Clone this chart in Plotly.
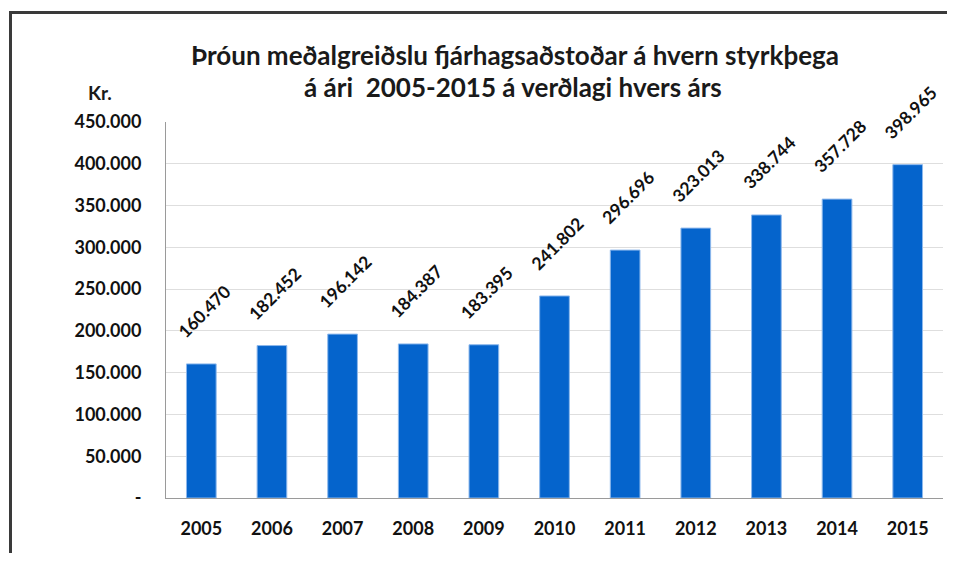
import plotly.graph_objects as go

years = ["2005", "2006", "2007", "2008", "2009", "2010", "2011", "2012", "2013", "2014", "2015"]
values = [160470, 182452, 196142, 184387, 183395, 241802, 296696, 323013, 338744, 357728, 398965]
y_tickvals = [0, 50000, 100000, 150000, 200000, 250000, 300000, 350000, 400000, 450000]
y_ticktext = ["-", "50.000", "100.000", "150.000", "200.000", "250.000", "300.000",
              "350.000", "400.000", "450.000"]
title_line1 = "Þróun meðalgreiðslu fjárhagsaðstoðar á hvern styrkþega"
title_line2 = "á ári  2005-2015 á verðlagi hvers árs"
unit_label = "Kr."

# page offset (browser body margin); keep the figure inside the window
OX, OY = 8, 8
W, H = 955 - 2 * OX, 565 - 2 * OY - 4
# plot area in page pixels
L, R, T, B = 166, 943, 122, 498

def px(x):
    return (x - L) / (R - L)

def py(y):
    return (B - y) / (B - T)

FONT = "Lato, 'Open Sans', sans-serif"

fig = go.Figure()
fig.add_trace(go.Bar(
    x=years, y=values,
    marker=dict(color="#0564CC", line=dict(color="#8db8ec", width=1)),
    width=0.42,
    hoverinfo="x+y",
))

annotations = []
for i, v in enumerate(values):
    annotations.append(dict(
        x=i, y=v, xref="x", yref="y",
        text="<b>" + f"{v:,}".replace(",", ".") + "</b>",
        textangle=-45, showarrow=False,
        xanchor="center", yanchor="bottom", yshift=19, xshift=3,
        font=dict(family=FONT, size=17.5, color="#111111"),
    ))

annotations += [
    dict(x=px(515), y=py(55), xref="paper", yref="paper", text="<b>" + title_line1 + "</b>",
         showarrow=False, xanchor="center", yanchor="middle",
         font=dict(family=FONT, size=26, color="#1a1a1a")),
    dict(x=px(513), y=py(87), xref="paper", yref="paper", text="<b>" + title_line2 + "</b>",
         showarrow=False, xanchor="center", yanchor="middle",
         font=dict(family=FONT, size=26, color="#1a1a1a")),
    dict(x=px(100), y=py(92), xref="paper", yref="paper", text="<b>" + unit_label + "</b>",
         showarrow=False, xanchor="center", yanchor="middle",
         font=dict(family=FONT, size=19, color="#1a1a1a")),
]

# outer frame (top and left edges of the cropped chart box) as thin filled rectangles
shapes = [
    dict(type="rect", xref="paper", yref="paper", x0=px(9), x1=px(W + OX), y0=py(14), y1=py(11),
         fillcolor="#3a3a3a", line=dict(width=0)),
    dict(type="rect", xref="paper", yref="paper", x0=px(9), x1=px(12), y0=py(H + OY), y1=py(11),
         fillcolor="#3a3a3a", line=dict(width=0)),
]

fig.update_layout(
    width=W, height=H,
    margin=dict(l=L - OX, r=(W + OX) - R, t=T - OY, b=(H + OY) - B, pad=0),
    paper_bgcolor="white", plot_bgcolor="white",
    showlegend=False,
    separators=",.",
    annotations=annotations,
    shapes=shapes,
    xaxis=dict(
        type="category", range=[-0.5, len(years) - 0.5],
        showgrid=False, showline=True, linecolor="#9a9a9a", linewidth=1,
        ticks="", ticklabelstandoff=14,
        tickfont=dict(family=FONT, size=18, color="#111111", weight="bold"),
    ),
    yaxis=dict(
        range=[0, 450000], tickvals=y_tickvals, ticktext=y_ticktext,
        showgrid=True, gridcolor="#dedede", gridwidth=1,
        showline=True, linecolor="#9a9a9a", linewidth=1,
        zeroline=False, ticks="", ticklabelstandoff=20,
        tickfont=dict(family=FONT, size=18, color="#111111", weight="bold"),
    ),
)

fig.write_html(
    "out.html",
    config={"displayModeBar": False},
    post_script="document.documentElement.style.overflow='hidden';document.body.style.overflow='hidden';",
)
